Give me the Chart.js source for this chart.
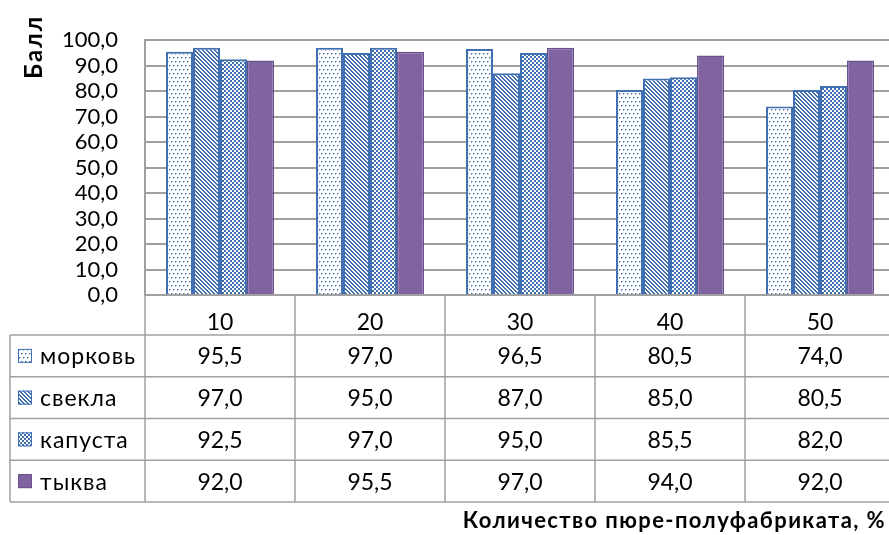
<!DOCTYPE html>
<html><head><meta charset="utf-8">
<script src="https://cdn.jsdelivr.net/npm/chart.js@4.4.1/dist/chart.umd.min.js"></script>
<style>html,body{margin:0;padding:0;background:#fff;overflow:hidden}#wrap{width:896px;height:535px}</style>
</head><body><div id="wrap"><canvas id="c" width="896" height="535"></canvas></div>
<script>
const categories = ['10', '20', '30', '40', '50'];
const seriesNames = ['морковь', 'свекла', 'капуста', 'тыква'];
const morkov  = [95.5, 97.0, 96.5, 80.5, 74.0];
const svekla  = [97.0, 95.0, 87.0, 85.0, 80.5];
const kapusta = [92.5, 97.0, 95.0, 85.5, 82.0];
const tykva   = [92.0, 95.5, 97.0, 94.0, 92.0];
const yMin = 0, yMax = 100, yStep = 10;
const yTitle = 'Балл';
const xTitle = 'Количество пюре-полуфабриката, %';

const BLUE = '#4170B2';
const PURPLE = '#8064A2';
const FONT = 'Lato, "Open Sans", "DejaVu Sans", sans-serif';

function makePattern(kind) {
  const c = document.createElement('canvas');
  const g = c.getContext('2d');
  if (kind === 'dots') {
    c.width = 8; c.height = 8;
    g.fillStyle = '#fff'; g.fillRect(0, 0, 8, 8);
    g.fillStyle = BLUE;
    [[1,1],[5,1],[3,5],[7,5]].forEach(p => g.fillRect(p[0], p[1], 1, 1));
    g.fillStyle = '#9DB5DC';
    [[2,1],[6,1],[4,5],[0,5],[1,2],[5,2],[3,6],[7,6]].forEach(p => g.fillRect(p[0], p[1], 1, 1));
  } else if (kind === 'diag') {
    c.width = 4; c.height = 4;
    g.fillStyle = '#fff'; g.fillRect(0, 0, 4, 4);
    g.fillStyle = BLUE;
    for (let yy = 0; yy < 4; yy++) for (let xx = 0; xx < 4; xx++) {
      const m = ((xx - yy) % 4 + 4) % 4;
      if (m < 2) g.fillRect(xx, yy, 1, 1);
    }
  } else if (kind === 'checker') {
    c.width = 4; c.height = 4;
    g.fillStyle = BLUE; g.fillRect(0, 0, 4, 4);
    g.fillStyle = '#fff';
    g.fillRect(0, 0, 2, 2); g.fillRect(2, 2, 2, 2);
  }
  return g.createPattern(c, 'repeat');
}

const fills = [makePattern('dots'), makePattern('diag'), makePattern('checker'), PURPLE];
const borders = [BLUE, BLUE, BLUE, '#6A5290'];
const seriesData = [morkov, svekla, kapusta, tykva];

const fmt = v => v.toFixed(1).replace('.', ',');

const tablePlugin = {
  id: 'dataTable',
  afterDraw(chart) {
    const ctx = chart.ctx;
    const x = chart.scales.x, y = chart.scales.y;
    const axisY = y.getPixelForValue(0);
    const headerBottom = axisY + 40;
    const rowH = 41.75;
    const tableLeft = 10;
    const right = chart.width;
    const bottom = headerBottom + seriesNames.length * rowH;
    const half = (x.getPixelForValue(1) - x.getPixelForValue(0)) / 2;
    ctx.save();
    ctx.strokeStyle = '#A0A0A0';
    ctx.lineWidth = 1.5;
    const line = (x1, y1, x2, y2) => { ctx.beginPath(); ctx.moveTo(x1, y1); ctx.lineTo(x2, y2); ctx.stroke(); };
    for (let r = 0; r <= seriesNames.length; r++) {
      const yy = headerBottom + r * rowH;
      line(tableLeft, yy, right, yy);
    }
    line(tableLeft, headerBottom, tableLeft, bottom);
    for (let i = 0; i <= categories.length; i++) {
      const xx = x.getPixelForValue(i) - half;
      line(xx, axisY, xx, bottom);
    }
    ctx.fillStyle = '#000';
    ctx.textBaseline = 'middle';
    ctx.font = '23px ' + FONT;
    seriesNames.forEach((name, r) => {
      const cy = headerBottom + r * rowH + rowH / 2;
      ctx.fillStyle = fills[r];
      ctx.fillRect(18, cy - 7, 14, 14);
      ctx.strokeStyle = borders[r];
      ctx.lineWidth = 1;
      ctx.strokeRect(18.5, cy - 6.5, 13, 13);
      ctx.fillStyle = '#000';
      ctx.textAlign = 'left';
      ctx.letterSpacing = '1px';
      ctx.fillText(name, 40, cy + 1);
      ctx.letterSpacing = '0px';
      ctx.textAlign = 'center';
      seriesData[r].forEach((v, i) => {
        ctx.fillText(fmt(v), x.getPixelForValue(i), cy + 1);
      });
    });
    ctx.font = 'bold 22px ' + FONT;
    ctx.letterSpacing = '1.4px';
    ctx.textAlign = 'right';
    ctx.textBaseline = 'alphabetic';
    ctx.fillText(xTitle, 886, 528);
    ctx.save();
    ctx.translate(34, 47);
    ctx.rotate(-Math.PI / 2);
    ctx.font = 'bold 24px ' + FONT;
    ctx.letterSpacing = '2px';
    ctx.textAlign = 'center';
    ctx.textBaseline = 'middle';
    ctx.fillText(yTitle, 0, 0);
    ctx.restore();
    ctx.restore();
  }
};

new Chart(document.getElementById('c'), {
  type: 'bar',
  data: {
    labels: categories,
    datasets: seriesNames.map((n, i) => ({
      label: n,
      data: seriesData[i],
      backgroundColor: fills[i],
      borderColor: borders[i],
      borderWidth: i === 3 ? 1.5 : 2,
      categoryPercentage: 0.72,
      barPercentage: 1.0
    }))
  },
  options: {
    responsive: false,
    animation: false,
    devicePixelRatio: 1,
    layout: { padding: { left: 0, top: 25, right: 1, bottom: 200 } },
    plugins: { legend: { display: false }, tooltip: { enabled: false } },
    scales: {
      x: {
        afterFit(s) { s.height = 40; },
        grid: { display: false },
        border: { display: true, color: '#A0A0A0', width: 2 },
        ticks: { color: '#000', font: { family: FONT, size: 23 }, padding: 6 }
      },
      y: {
        min: yMin, max: yMax,
        afterFit(s) { s.width = 145; },
        grid: { color: '#A0A0A0', lineWidth: 2, tickLength: 0, drawTicks: false },
        border: { display: true, color: '#A0A0A0', width: 2 },
        ticks: {
          stepSize: yStep, color: '#000', padding: 27, autoSkip: false,
          font: { family: FONT, size: 22 },
          callback: v => fmt(v)
        }
      }
    }
  },
  plugins: [tablePlugin]
});
</script>
</body></html>
